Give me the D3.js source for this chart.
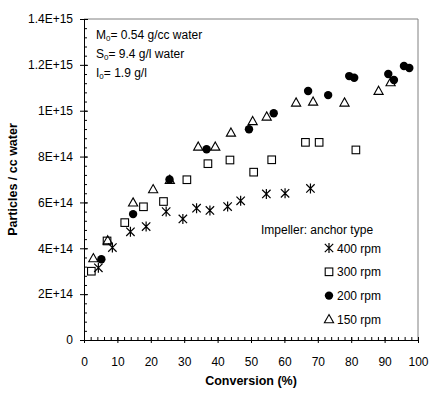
<!DOCTYPE html>
<html>
<head>
<meta charset="utf-8">
<script src="https://cdn.jsdelivr.net/npm/d3@7"></script>
<style>
  body { margin: 0; background: #fff; }
  text { font-family: Arial, "Liberation Sans", sans-serif; fill: #000; }
</style>
</head>
<body>
<div id="chart"></div>
<script>
// particles per cc water, in units of 1E14, against conversion (%)
var conv400 = [4.3, 8.5, 13.9, 18.6, 24.6, 29.6, 33.7, 37.7, 43.0, 46.9, 54.6, 60.2, 67.8]
var part400 = [3.15, 4.03, 4.72, 4.95, 5.6, 5.28, 5.75, 5.65, 5.82, 6.07, 6.37, 6.4, 6.61]

var conv300 = [2.2, 6.9, 12.2, 17.8, 23.8, 30.8, 37.1, 43.7, 50.8, 56.2, 66.3, 70.4, 81.4]
var part300 = [3.0, 4.32, 5.12, 5.81, 6.04, 6.99, 7.69, 7.85, 7.32, 7.86, 8.62, 8.62, 8.29]

var conv200 = [5.2, 14.7, 25.6, 36.7, 49.4, 56.8, 67.1, 73.1, 79.4, 80.9, 91.1, 92.8, 95.8, 97.4]
var part200 = [3.52, 5.49, 7.0, 8.32, 9.19, 9.89, 10.86, 10.68, 11.51, 11.44, 11.6, 11.34, 11.95, 11.86]

var conv150 = [2.8, 7.1, 14.7, 20.7, 25.7, 34.2, 39.3, 44.0, 50.5, 54.7, 63.5, 68.6, 78.0, 88.2, 91.8]
var part150 = [3.56, 4.34, 5.99, 6.57, 6.98, 8.43, 8.43, 9.04, 9.54, 9.74, 10.35, 10.39, 10.35, 10.86, 11.24]

var seriesNames = ['400 rpm', '300 rpm', '200 rpm', '150 rpm']
var seriesShapes = ['asterisk', 'square', 'circle', 'triangle']

var xTicks = [0, 10, 20, 30, 40, 50, 60, 70, 80, 90, 100]
var yTicks = [0, 2, 4, 6, 8, 10, 12, 14]
var yTickLabels = ['0', '2E+14', '4E+14', '6E+14', '8E+14', '1E+15', '1.2E+15', '1.4E+15']

var width = 431, height = 393
var margin = {top: 19, right: 13, bottom: 53, left: 84}

var svg = d3.select('#chart')
            .append('svg')
            .attr('width', width)
            .attr('height', height)

var x = d3.scaleLinear().domain([0, 100]).range([margin.left, width - margin.right])
var y = d3.scaleLinear().domain([0, 14]).range([height - margin.bottom, margin.top])

// frame: grey top and right
svg.append('path')
   .attr('d', 'M' + x(0) + ',' + y(14) + 'H' + x(100) + 'V' + y(0))
   .attr('fill', 'none')
   .attr('stroke', '#808080')
   .attr('stroke-width', 1)

// minor ticks
var xAxisMinor = d3.axisBottom(x).tickValues(d3.range(0, 101, 2)).tickSize(-3).tickFormat('')
svg.append('g')
   .attr('transform', 'translate(0,' + y(0) + ')')
   .call(xAxisMinor)
   .call(function(g){ g.select('.domain').remove() })

var yAxisMinor = d3.axisLeft(y).tickValues(d3.range(0, 14.01, 0.4)).tickSize(-3).tickFormat('')
svg.append('g')
   .attr('transform', 'translate(' + x(0) + ',0)')
   .call(yAxisMinor)
   .call(function(g){ g.select('.domain').remove() })

// major ticks cross the axis
var xAxis = d3.axisBottom(x).tickValues(xTicks).tickSizeInner(3).tickSizeOuter(0).tickPadding(14)
var gx = svg.append('g')
   .attr('transform', 'translate(0,' + y(0) + ')')
   .call(xAxis)
gx.selectAll('.tick line').attr('y1', -3)
gx.selectAll('text').style('font-size', '12px')

var yAxis = d3.axisLeft(y).tickValues(yTicks).tickSizeInner(4).tickSizeOuter(0).tickPadding(7)
          .tickFormat(function(d, i){ return yTickLabels[i] })
var gy = svg.append('g')
   .attr('transform', 'translate(' + x(0) + ',0)')
   .call(yAxis)
gy.selectAll('.tick line').attr('x1', 4)
gy.selectAll('text').style('font-size', '12px')

svg.selectAll('.domain').attr('stroke', '#000')
svg.selectAll('.tick line').attr('stroke', '#000')

// axis titles
svg.append('text')
   .attr('x', (x(0) + x(100)) / 2)
   .attr('y', 385)
   .attr('text-anchor', 'middle')
   .style('font-size', '12.5px')
   .style('font-weight', 'bold')
   .text('Conversion (%)')

svg.append('text')
   .attr('transform', 'translate(17,' + (y(7)) + ') rotate(-90)')
   .attr('text-anchor', 'middle')
   .style('font-size', '12.5px')
   .style('font-weight', 'bold')
   .text('Particles / cc water')

// marker drawing
function drawMarker(g, shape, cx, cy) {
  if (shape == 'asterisk') {
    g.append('path')
     .attr('d', 'M' + cx + ',' + (cy - 5) + 'V' + (cy + 5) +
                'M' + (cx - 4.2) + ',' + (cy - 4.2) + 'L' + (cx + 4.2) + ',' + (cy + 4.2) +
                'M' + (cx - 4.2) + ',' + (cy + 4.2) + 'L' + (cx + 4.2) + ',' + (cy - 4.2))
     .attr('stroke', '#000')
     .attr('stroke-width', 1.2)
     .attr('fill', 'none')
  } else if (shape == 'square') {
    g.append('rect')
     .attr('x', cx - 3.8)
     .attr('y', cy - 3.8)
     .attr('width', 7.6)
     .attr('height', 7.6)
     .attr('fill', 'none')
     .attr('stroke', '#000')
     .attr('stroke-width', 1.1)
  } else if (shape == 'circle') {
    g.append('circle')
     .attr('cx', cx)
     .attr('cy', cy)
     .attr('r', 4.2)
     .attr('fill', '#000')
  } else {
    g.append('path')
     .attr('d', 'M' + cx + ',' + (cy - 4.8) + 'L' + (cx + 4.6) + ',' + (cy + 3.4) + 'L' + (cx - 4.6) + ',' + (cy + 3.4) + 'Z')
     .attr('fill', 'none')
     .attr('stroke', '#000')
     .attr('stroke-width', 1.1)
  }
}

var allConv = [conv400, conv300, conv200, conv150]
var allPart = [part400, part300, part200, part150]

for (var s = 0; s < allConv.length; s++) {
  var g = svg.append('g')
  for (var i = 0; i < allConv[s].length; i++) {
    drawMarker(g, seriesShapes[s], x(allConv[s][i]), y(allPart[s][i]))
  }
}

// conditions annotation
var notes = [['M', '0', '= 0.54 g/cc water'], ['S', '0', '= 9.4 g/l water'], ['I', '0', '= 1.9 g/l']]
for (var n = 0; n < notes.length; n++) {
  var t = svg.append('text')
     .attr('x', 96)
     .attr('y', 39 + n * 19)
     .style('font-size', '12px')
  t.append('tspan').text(notes[n][0])
  t.append('tspan').attr('dy', 2).style('font-size', '8px').text(notes[n][1])
  t.append('tspan').attr('dy', -2).text(notes[n][2])
}

// legend
svg.append('text')
   .attr('x', 261)
   .attr('y', 234)
   .style('font-size', '12px')
   .text('Impeller: anchor type')

for (var k = 0; k < seriesNames.length; k++) {
  var ly = 248 + k * 23.8
  drawMarker(svg.append('g'), seriesShapes[k], 329, ly)
  svg.append('text')
     .attr('x', 337)
     .attr('y', ly + 4.5)
     .style('font-size', '12px')
     .text(seriesNames[k])
}
</script>
</body>
</html>
